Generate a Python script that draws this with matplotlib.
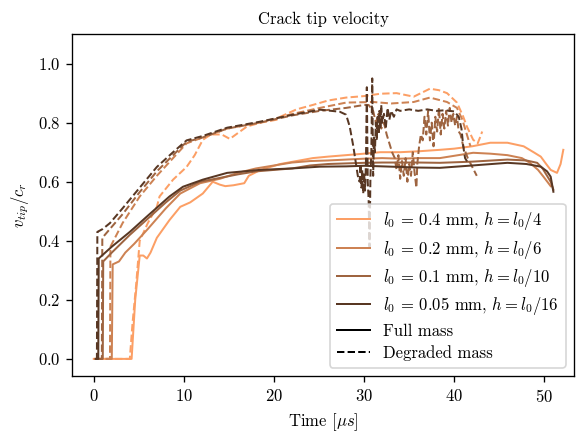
import numpy as np
import matplotlib
matplotlib.use("Agg")
import matplotlib.pyplot as plt
from matplotlib.lines import Line2D

plt.rcParams['font.family'] = 'serif'
plt.rcParams['font.serif'] = ['cmr10']
plt.rcParams['mathtext.fontset'] = 'cm'
plt.rcParams['axes.formatter.use_mathtext'] = True
plt.rcParams['font.size'] = 10

labels = [r'$l_0$ = 0.4 mm, $h = l_0/4$',
          r'$l_0$ = 0.2 mm, $h = l_0/6$',
          r'$l_0$ = 0.1 mm, $h = l_0/10$',
          r'$l_0$ = 0.05 mm, $h = l_0/16$']

# full mass runs
t_full_04 = [0, 4.2, 4.6, 5.1, 5.5, 5.9, 6.3, 7, 8.4, 9.6, 10.7, 12.1, 13.2, 14.0, 14.6, 15.5, 16.7, 17.2,
             18.5, 20.7, 22.5, 24.3, 26, 28, 30, 31.8, 34, 36, 38.4, 40, 42, 44, 45.9, 47.7, 48.8, 49.6,
             50.2, 50.7, 51.4, 51.8, 52.1]
v_full_04 = [0, 0, 0.2, 0.35, 0.35, 0.34, 0.36, 0.41, 0.47, 0.515, 0.53, 0.56, 0.60, 0.59, 0.585, 0.588, 0.595,
             0.62, 0.64, 0.66, 0.67, 0.68, 0.685, 0.69, 0.695, 0.70, 0.70, 0.703, 0.708, 0.712, 0.72, 0.732,
             0.732, 0.72, 0.70, 0.685, 0.66, 0.64, 0.63, 0.66, 0.708]

t_full_02 = [1.5, 2.0, 2.1, 2.8, 3.5, 4.5, 6, 8, 9.6, 11.8, 14, 16, 18, 20, 22, 24, 26, 28, 30, 32, 34, 36,
             38.4, 42.1, 44, 45.9, 47.5, 48.4, 49.3, 49.9, 50.7]
v_full_02 = [0, 0, 0.32, 0.33, 0.36, 0.39, 0.44, 0.51, 0.56, 0.595, 0.61, 0.63, 0.645, 0.655, 0.665, 0.67,
             0.672, 0.675, 0.678, 0.68, 0.678, 0.68, 0.68, 0.698, 0.695, 0.69, 0.68, 0.664, 0.64, 0.617, 0.585]

t_full_01 = [0.5, 1.0, 1.05, 2, 4, 6, 8, 9.6, 11.8, 14, 16, 18, 20, 22, 24, 26, 28, 30, 32, 34, 36, 38.4,
             42, 45.9, 48, 49.2, 49.8, 50.3, 50.7, 51]
v_full_01 = [0, 0, 0.33, 0.36, 0.42, 0.475, 0.53, 0.57, 0.60, 0.613, 0.625, 0.635, 0.64, 0.645, 0.655, 0.66,
             0.662, 0.664, 0.665, 0.665, 0.665, 0.664, 0.668, 0.675, 0.672, 0.664, 0.645, 0.62, 0.60, 0.573]

t_full_005 = [0.2, 0.5, 0.55, 2, 4, 6, 8.4, 9.9, 12.1, 14.8, 18.4, 22, 25.1, 28, 30, 32, 34, 36, 38.4, 42,
              45.9, 48, 49.6, 50.3, 50.7, 51.0]
v_full_005 = [0, 0, 0.34, 0.38, 0.43, 0.485, 0.55, 0.583, 0.607, 0.63, 0.64, 0.645, 0.651, 0.652, 0.654,
              0.652, 0.65, 0.648, 0.647, 0.655, 0.664, 0.66, 0.651, 0.635, 0.617, 0.566]

# degraded mass runs
t_degr_04 = [0, 4.0, 4.3, 4.7, 5.1, 6.0, 7.0, 7.3, 8.8, 10.3, 11.2, 12.1, 13.0, 14.2, 15.1, 16.0, 17.0, 18.5,
             20.3, 20.7, 22.5, 24.3, 26, 28, 30, 31.8, 33.6, 35.5, 37.3, 38.3, 39.2, 40.3, 41.0, 41.4, 42.1,
             42.6, 42.9, 43.1]
v_degr_04 = [0, 0, 0.12, 0.25, 0.40, 0.46, 0.515, 0.55, 0.607, 0.65, 0.69, 0.742, 0.76, 0.76, 0.745, 0.765,
             0.787, 0.80, 0.81, 0.82, 0.845, 0.86, 0.875, 0.885, 0.89, 0.898, 0.90, 0.888, 0.915, 0.91, 0.90,
             0.868, 0.82, 0.787, 0.742, 0.73, 0.753, 0.77]

t_degr_02 = [1.3, 1.8, 1.85, 3.2, 5.1, 7.0, 8.8, 10.3, 12.1, 14.8, 18.4, 22.1, 25.1, 28, 31, 33, 35.5, 37.3,
             39.2, 40.3, 40.9, 41.4, 41.8]
v_degr_02 = [0, 0, 0.38, 0.46, 0.55, 0.62, 0.68, 0.73, 0.75, 0.78, 0.80, 0.83, 0.85, 0.868, 0.87, 0.865,
             0.87, 0.885, 0.87, 0.85, 0.81, 0.76, 0.72]

t_degr_01 = [0.5, 0.9, 0.95, 3.2, 5.1, 7.0, 8.8, 10.3, 12.1, 14.8, 18.4, 22.1, 25.1, 28, 29, 30, 30.5, 31.0,
             31.3, 31.6, 31.9, 32.2, 32.5, 32.8, 33.1, 33.4, 33.6, 33.8, 34.0, 34.2, 34.4, 34.6, 34.8, 35.0,
             35.2, 35.4, 35.6, 35.8, 35.9, 36.1, 36.3, 36.5, 36.7, 36.9, 37.1, 37.3, 37.5, 37.7, 37.9, 38.1,
             38.3, 38.5, 38.7, 38.9, 39.1, 39.3, 39.5, 39.7, 39.9, 40.1, 40.3, 40.5, 40.7, 41.0, 41.5, 42.0,
             42.5]
v_degr_01 = [0, 0, 0.41, 0.49, 0.565, 0.635, 0.69, 0.735, 0.75, 0.78, 0.80, 0.825, 0.84, 0.85, 0.855, 0.86,
             0.86, 0.84, 0.80, 0.83, 0.78, 0.80, 0.76, 0.73, 0.70, 0.68, 0.64, 0.69, 0.61, 0.67, 0.62, 0.68,
             0.60, 0.66, 0.62, 0.70, 0.63, 0.58, 0.66, 0.72, 0.76, 0.74, 0.82, 0.76, 0.84, 0.74, 0.80, 0.72,
             0.82, 0.77, 0.85, 0.76, 0.83, 0.78, 0.84, 0.79, 0.85, 0.80, 0.83, 0.79, 0.82, 0.77, 0.76, 0.72,
             0.68, 0.65, 0.62]

t_degr_005 = [0.2, 0.35, 0.4, 1.0, 1.8, 3.2, 5.1, 7.0, 8.8, 10.3, 12.1, 14.8, 18.4, 22.1, 25.1, 27.3, 28.0,
              28.4, 28.8, 29.1, 29.3, 29.5, 29.6, 29.7, 29.8, 29.9, 30.0, 30.1, 30.2, 30.3, 30.4, 30.5, 30.6,
              30.7, 30.8, 30.9, 31.0, 31.1, 31.2, 31.3, 31.4, 31.5, 31.6, 31.7, 31.8, 31.9, 32.0, 32.2, 32.4,
              32.6, 32.8, 33.0, 33.3, 33.6, 34.0, 35, 36, 37, 38, 39, 40, 40.5, 40.8, 41.0, 41.2, 41.6]
v_degr_005 = [0, 0, 0.43, 0.44, 0.46, 0.51, 0.58, 0.65, 0.70, 0.74, 0.755, 0.783, 0.803, 0.827, 0.844, 0.837,
              0.827, 0.787, 0.72, 0.66, 0.62, 0.60, 0.66, 0.58, 0.64, 0.56, 0.63, 0.57, 0.66, 0.92, 0.60,
              0.54, 0.38, 0.62, 0.70, 0.95, 0.62, 0.75, 0.70, 0.80, 0.74, 0.82, 0.76, 0.84, 0.78, 0.86, 0.80,
              0.83, 0.78, 0.85, 0.81, 0.84, 0.82, 0.845, 0.84, 0.845, 0.84, 0.845, 0.84, 0.842, 0.838, 0.82,
              0.78, 0.72, 0.68, 0.66]

full_t = [t_full_04, t_full_02, t_full_01, t_full_005]
full_v = [v_full_04, v_full_02, v_full_01, v_full_005]
degr_t = [t_degr_04, t_degr_02, t_degr_01, t_degr_005]
degr_v = [v_degr_04, v_degr_02, v_degr_01, v_degr_005]

cmap = plt.get_cmap('copper')
colors = [cmap(0.8), cmap(0.65), cmap(0.5), cmap(0.28)]

fig = plt.figure(figsize=(577 / 120, 432 / 120), dpi=120)
ax = fig.add_axes([0.125, 0.1296, 0.87, 0.7915])

for i in range(4):
    ax.plot(full_t[i], full_v[i], '-', color=colors[i], lw=1.2)
    ax.plot(degr_t[i], degr_v[i], '--', color=colors[i], lw=1.2)

ax.set_xlim(-2.4, 53.3)
ax.set_ylim(-0.058, 1.10)
ax.set_xticks([0, 10, 20, 30, 40, 50])
ax.set_yticks([0.0, 0.2, 0.4, 0.6, 0.8, 1.0])
ax.set_xlabel(r'Time [$\mu s$]')
ax.set_ylabel(r'$v_{tip}/c_r$')
ax.set_title('Crack tip velocity', fontsize=10)

handles = [Line2D([], [], color=c, lw=1.2) for c in colors]
handles.append(Line2D([], [], color='k', lw=1.2, ls='-'))
handles.append(Line2D([], [], color='k', lw=1.2, ls='--'))
ax.legend(handles, labels + ['Full mass', 'Degraded mass'], loc='lower right',
          labelspacing=0.38)

fig.savefig('out.png', dpi=120)
